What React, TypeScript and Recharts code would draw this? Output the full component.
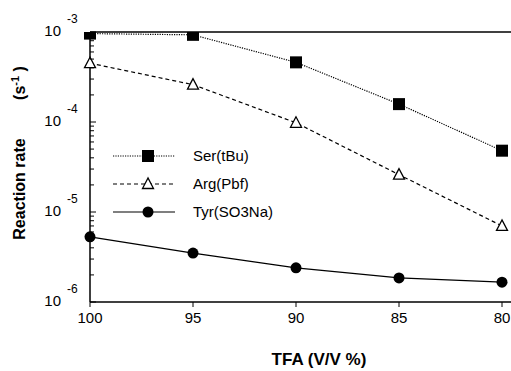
import { Line, LineChart, ReferenceLine, XAxis, YAxis } from "recharts";

const tfa = [100, 95, 90, 85, 80];
const serTBu = [9.6e-4, 9.3e-4, 4.6e-4, 1.58e-4, 4.8e-5];
const argPbf = [4.5e-4, 2.6e-4, 9.8e-5, 2.6e-5, 7.0e-6];
const tyrSO3Na = [5.3e-6, 3.5e-6, 2.4e-6, 1.85e-6, 1.66e-6];

const decades = [-6, -5, -4, -3];
const yTicks: number[] = [];
decades.forEach((e, i) => {
  const steps = i === decades.length - 1 ? [1] : [1, 2, 3, 4, 5, 6, 7, 8, 9];
  steps.forEach((m) => yTicks.push(m * Math.pow(10, e)));
});

const data = tfa.map((t, i) => ({
  tfa: t,
  ser: serTBu[i],
  arg: argPbf[i],
  tyr: tyrSO3Na[i],
}));

const font = "'Liberation Sans', Arial, sans-serif";

function YTick(props: any) {
  const { x, y, payload } = props;
  const v = payload.value;
  const exp = Math.round(Math.log10(v));
  const major = Math.abs(v - Math.pow(10, exp)) / v < 1e-6;
  return (
    <g>
      <line x1={x} x2={x + (major ? 6 : 4)} y1={y} y2={y} stroke="#000" strokeWidth={1} />
      {major && (
        <>
          <text x={x - 29} y={y + 4} textAnchor="end" fontSize={15} fontFamily={font} fill="#000">
            10
          </text>
          <text x={x - 23} y={y - 9} textAnchor="start" fontSize={12} fontFamily={font} fill="#000">
            {exp}
          </text>
        </>
      )}
    </g>
  );
}

function XTick(props: any) {
  const { x, y, payload } = props;
  return (
    <g>
      <line x1={x} x2={x} y1={y} y2={y + 5} stroke="#000" strokeWidth={1} />
      <text x={x} y={y + 21} textAnchor="middle" fontSize={15} fontFamily={font} fill="#000">
        {payload.value}
      </text>
    </g>
  );
}

const legendItems = [
  { name: "Ser(tBu)", dash: "1.2 1.2", shape: "square" },
  { name: "Arg(Pbf)", dash: "4 3", shape: "triangle" },
  { name: "Tyr(SO3Na)", dash: undefined, shape: "circle" },
];

function Marker({ cx, cy, shape }: { cx: number; cy: number; shape: string }) {
  if (shape === "square") return <rect x={cx - 6} y={cy - 6} width={12} height={12} fill="#000" />;
  if (shape === "triangle")
    return (
      <polygon
        points={`${cx},${cy - 6} ${cx - 5.5},${cy + 4.5} ${cx + 5.5},${cy + 4.5}`}
        fill="#fff"
        stroke="#000"
        strokeWidth={1.3}
      />
    );
  return <circle cx={cx} cy={cy} r={5.5} fill="#000" />;
}

const dot = (shape: string) => (p: any) => <Marker key={p.index} cx={p.cx} cy={p.cy} shape={shape} />;

export default function App() {
  return (
    <div style={{ position: "absolute", left: 0, top: 0, width: 511, height: 371, background: "#fff" }}>
      <LineChart width={511} height={371} data={data} margin={{ top: 32, right: 0, bottom: 39, left: 0 }}>
        <XAxis
          dataKey="tfa"
          type="number"
          domain={[80, 100]}
          reversed
          ticks={tfa}
          height={30}
          padding={{ left: 0, right: 9 }}
          tickSize={0}
          tickMargin={0}
          tickLine={false}
          tick={<XTick />}
          axisLine={{ stroke: "#000", strokeWidth: 1.5 }}
        />
        <YAxis
          scale="log"
          domain={[1e-6, 1e-3]}
          allowDataOverflow
          ticks={yTicks}
          interval={0}
          width={90}
          tickSize={0}
          tickMargin={0}
          tickLine={false}
          tick={<YTick />}
          axisLine={{ stroke: "#000", strokeWidth: 1.5 }}
        />
        <ReferenceLine y={1e-3} stroke="#000" strokeWidth={1.5} />
        <Line dataKey="ser" name="Ser(tBu)" stroke="#000" strokeWidth={1.2} strokeDasharray="1.2 1.2" dot={dot("square")} isAnimationActive={false} />
        <Line dataKey="arg" name="Arg(Pbf)" stroke="#000" strokeWidth={1.2} strokeDasharray="4 3" dot={dot("triangle")} isAnimationActive={false} />
        <Line dataKey="tyr" name="Tyr(SO3Na)" stroke="#000" strokeWidth={1.3} dot={dot("circle")} isAnimationActive={false} />
        <g>
          {legendItems.map((it, i) => {
            const cy = 156 + i * 28;
            return (
              <g key={it.name}>
                <line x1={113} x2={175} y1={cy} y2={cy} stroke="#000" strokeWidth={1.2} strokeDasharray={it.dash} />
                <Marker cx={148} cy={cy} shape={it.shape} />
                <text x={193} y={cy + 5} fontSize={15} fontFamily={font} fill="#000">
                  {it.name}
                </text>
              </g>
            );
          })}
        </g>
        <text x={25} y={189} transform="rotate(-90 25 189)" textAnchor="middle" fontSize={16} fontWeight="bold" fontFamily={font} fill="#000">
          Reaction rate
        </text>
        <text x={25} y={83} transform="rotate(-90 25 83)" textAnchor="middle" fontSize={16} fontWeight="bold" fontFamily={font} fill="#000">
          (s<tspan dy={-6} fontSize={11}>-1</tspan>
          <tspan dy={6}> )</tspan>
        </text>
        <text x={319} y={365} textAnchor="middle" fontSize={17} fontWeight="bold" fontFamily={font} fill="#000">
          TFA (V/V %)
        </text>
      </LineChart>
    </div>
  );
}
